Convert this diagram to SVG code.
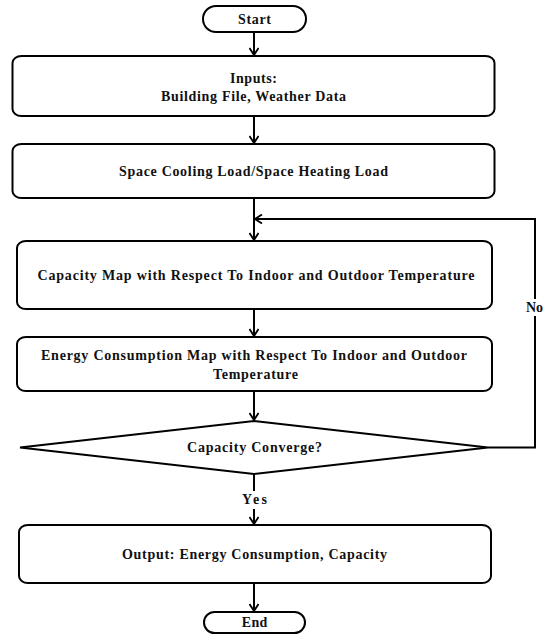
<svg xmlns="http://www.w3.org/2000/svg" width="543" height="635" viewBox="0 0 543 635">
<style>
.box{fill:#fff;stroke:#000;stroke-width:2}
.ln{fill:none;stroke:#000;stroke-width:2}
text{font-family:"Liberation Serif","Times New Roman","DejaVu Serif",serif;font-weight:bold;font-size:14px;fill:#111;text-anchor:middle}
</style>
<defs>
<marker id="ah" viewBox="0 0 10 10" refX="9" refY="5" markerWidth="10" markerHeight="10" markerUnits="userSpaceOnUse" orient="auto">
<path d="M2,0.5 L9,5 L2,9.5" fill="none" stroke="#000" stroke-width="1.8"/>
</marker>
</defs>
<rect width="543" height="635" fill="#fff"/>
<g id="connectors">
<line class="ln" x1="254" y1="32" x2="254" y2="55" marker-end="url(#ah)"/>
<line class="ln" x1="254" y1="116" x2="254" y2="143" marker-end="url(#ah)"/>
<line class="ln" x1="254" y1="198" x2="254" y2="240" marker-end="url(#ah)"/>
<line class="ln" x1="254" y1="309" x2="254" y2="336" marker-end="url(#ah)"/>
<line class="ln" x1="254" y1="391" x2="254" y2="420" marker-end="url(#ah)"/>
<line class="ln" x1="254" y1="474" x2="254" y2="491"/>
<line class="ln" x1="254" y1="509" x2="254" y2="524" marker-end="url(#ah)"/>
<line class="ln" x1="254" y1="583" x2="254" y2="611" marker-end="url(#ah)"/>
<polyline class="ln" points="488,447.5 535,447.5 535,316"/>
<polyline class="ln" points="535,299 535,219 255,219" marker-end="url(#ah)"/>
<text x="526" y="312" style="text-anchor:start">No</text>
<text x="254.5" y="504" textLength="25">Yes</text>
</g>
<g id="start">
<rect class="box" x="203" y="6" width="103" height="26" rx="13"/>
<text x="254.5" y="24" textLength="33">Start</text>
</g>
<g id="inputs">
<rect class="box" x="12.5" y="56" width="482" height="60" rx="9" ry="7"/>
<text x="253.5" y="82.5" textLength="47">Inputs:</text>
<text x="253.5" y="100.5" textLength="185">Building File, Weather Data</text>
</g>
<g id="load">
<rect class="box" x="12.5" y="144" width="482" height="54" rx="9" ry="7"/>
<text x="253.5" y="175.5" textLength="269">Space Cooling Load/Space Heating Load</text>
</g>
<g id="capacity-map">
<rect class="box" x="17" y="241" width="475" height="68" rx="9" ry="7"/>
<text x="256" y="280" textLength="437">Capacity Map with Respect To Indoor and Outdoor Temperature</text>
</g>
<g id="energy-map">
<rect class="box" x="17" y="337" width="475" height="54" rx="9" ry="7"/>
<text x="254" y="360" textLength="426">Energy Consumption Map with Respect To Indoor and Outdoor</text>
<text x="255.5" y="379" textLength="85">Temperature</text>
</g>
<g id="decision">
<polygon class="box" points="254,421 488,447.5 254,474 20,447.5"/>
<text x="254.5" y="452" textLength="135">Capacity Converge?</text>
</g>
<g id="output">
<rect class="box" x="19" y="525" width="472" height="58" rx="9" ry="7"/>
<text x="254.5" y="559" textLength="265">Output: Energy Consumption, Capacity</text>
</g>
<g id="end">
<rect class="box" x="204" y="612" width="101" height="21" rx="10.5"/>
<text x="254.5" y="627" textLength="25.6">End</text>
</g>
</svg>
